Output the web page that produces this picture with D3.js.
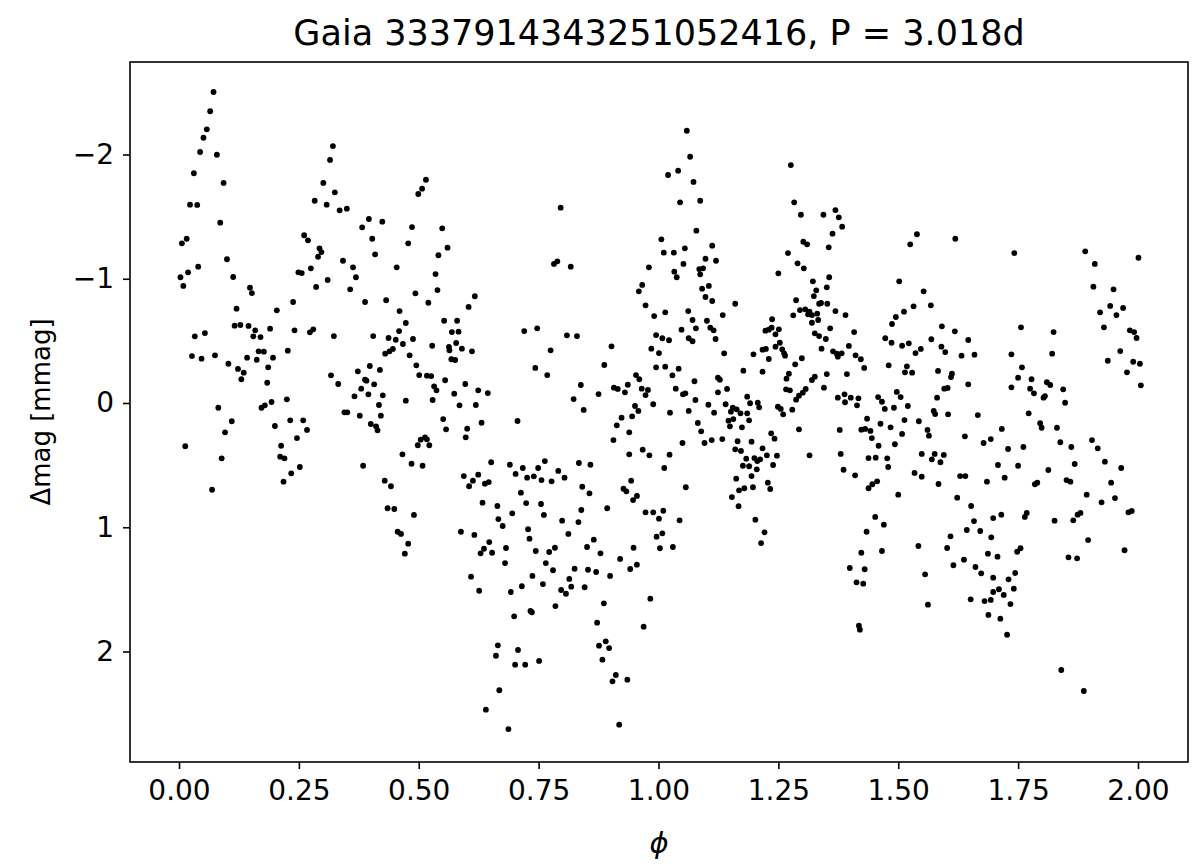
<!DOCTYPE html>
<html><head><meta charset="utf-8">
<script src="https://cdn.jsdelivr.net/npm/d3@7"></script>
<style>html,body{margin:0;padding:0;background:#fff;} svg{display:block;}</style>
</head><body>
<svg id="chart" width="1200" height="868"></svg>
<script>
const titleText = "Gaia 3337914343251052416, P = 3.018d";
const xLabelText = "\u03d5";
const yLabelText = "\u0394mag [mmag]";
const xTicks = [0, 0.25, 0.5, 0.75, 1.0, 1.25, 1.5, 1.75, 2.0];
const yTicks = [-2, -1, 0, 1, 2];

// phase of each observation
const phase = [
0.072,0.065,0.058,0.051,0.044,0.079,0.031,0.093,0.023,0.038,
0.086,0.016,0.006,0.100,0.040,0.019,0.003,0.009,0.113,0.148,
0.152,0.120,0.204,0.238,0.116,0.128,0.145,0.159,0.155,0.170,
0.190,0.241,0.273,0.280,0.323,0.054,0.033,0.027,0.047,0.075,
0.103,0.123,0.135,0.130,0.142,0.162,0.166,0.177,0.196,0.186,
0.184,0.227,0.082,0.172,0.179,0.193,0.225,0.317,0.321,0.315,
0.301,0.325,0.283,0.308,0.261,0.269,0.293,0.297,0.290,0.275,
0.249,0.256,0.310,0.286,
0.110,0.096,0.013,0.089,0.069,0.200,0.232,0.259,0.267,0.246,0.213,0.211,0.220,0.252,0.234,0.218,
0.335,0.350,0.515,0.507,0.499,0.396,0.382,0.424,0.403,0.409,
0.486,0.549,0.478,0.560,0.541,0.342,0.363,0.369,0.357,0.454,
0.535,0.539,0.493,0.520,0.617,0.604,0.388,0.432,0.460,0.473,
0.459,0.405,0.437,0.452,0.488,0.467,0.430,0.439,0.446,0.481,
0.553,0.580,0.569,0.583,0.528,0.563,0.564,0.578,0.590,0.611,
0.568,0.576,0.495,0.501,0.517,0.526,0.532,0.537,0.555,0.597,
0.574,0.624,0.644,0.619,0.585,0.529,0.473,0.332,0.373,0.398,
0.419,0.388,0.391,0.407,0.380,0.395,0.366,0.425,0.417,
0.345,0.351,0.377,0.421,0.400,0.411,0.414,0.551,0.557,0.601,
0.598,0.631,0.513,0.504,0.498,0.522,0.517,0.466,0.485,0.508,
0.384,0.429,0.442,0.435,0.449,0.490,0.456,0.463,0.478,0.471,
0.651,0.594,0.624,0.613,0.605,0.638,0.646,0.633,0.664,0.666,
0.588,0.616,0.647,0.636,0.629,0.653,0.609,0.626,0.665,0.661,
0.668,0.640,
0.796,1.006,1.011,0.782,0.789,0.817,0.980,0.966,0.959,0.973,
0.991,1.014,0.720,0.747,0.809,0.830,0.775,0.902,0.887,0.743,
0.768,0.838,0.823,0.844,0.875,0.907,0.915,0.930,0.936,0.953,
0.960,0.965,0.978,0.973,0.989,0.951,0.958,0.995,1.008,0.985,
1.001,0.995,1.014,
0.706,0.923,0.945,0.913,0.939,0.906,0.939,0.967,0.981,1.012,
0.690,0.702,0.717,0.726,0.740,0.749,0.763,0.756,0.777,0.791,
0.804,0.834,0.858,0.841,0.856,0.943,0.927,0.933,0.955,0.947,
0.713,0.724,0.755,0.761,0.695,0.675,0.839,0.893,0.799,0.833,
0.812,0.973,0.989,1.010,1.001,0.996,1.008,1.003,0.728,0.731,
0.682,0.680,0.744,0.772,0.784,0.765,0.780,0.865,0.851,0.879,
0.948,0.920,0.941,0.955,0.825,0.853,0.870,0.899,0.737,0.759,
0.814,0.818,0.797,0.807,0.846,0.715,0.692,0.785,0.733,0.736,
0.699,0.886,0.983,0.872,0.969,0.707,0.701,0.722,0.751,0.890,
0.876,0.897,0.883,0.911,0.904,0.935,0.687,0.918,
1.059,1.066,1.020,1.041,1.073,1.045,1.087,1.079,1.032,1.055,
1.112,1.098,1.120,1.052,1.033,1.038,1.085,1.093,1.087,1.091,
1.105,1.098,1.112,1.160,1.134,1.062,1.071,1.101,1.078,1.048,
1.108,1.115,1.022,1.063,1.071,1.119,1.137,1.042,1.029,1.075,
1.124,1.128,1.036,1.051,1.056,1.143,1.124,1.077,1.104,1.140,
1.063,1.024,1.116,1.177,1.198,1.217,1.224,1.230,1.217,1.237,
1.223,1.230,1.236,1.251,1.244,1.253,1.244,1.258,1.262,1.264,
1.250,1.276,1.283,1.297,1.344,1.270,1.302,1.310,1.355,1.290,
1.303,1.322,1.329,1.324,1.351,1.356,1.287,1.339,1.335,1.352,
1.281,1.295,1.306,1.315,1.320,1.331,1.312,1.333,1.320,1.358,
1.326,1.335,1.349,1.340,1.299,1.285,1.272,1.267,1.326,1.320,
1.351,1.345,1.266,1.274,1.307,1.301,1.293,1.287,1.185,1.191,
1.207,1.210,1.155,1.163,1.151,1.171,1.185,1.249,1.255,1.279,
1.260,
1.146,1.156,1.149,1.189,1.174,1.082,1.089,1.050,1.096,1.111,
1.133,1.165,1.194,1.160,1.172,1.183,1.200,1.206,1.212,1.176,
1.189,1.205,1.217,1.226,1.235,1.242,1.247,1.239,1.293,1.315,
1.023,1.057,1.162,1.194,1.168,1.179,1.197,1.153,1.167,1.228,
1.233,1.044,1.030,1.202,1.221,1.214,
1.369,1.376,1.383,1.363,1.539,1.525,1.619,1.369,1.390,1.408,
1.397,1.364,1.374,1.382,1.372,1.411,1.422,1.429,1.393,1.374,
1.388,1.389,1.401,1.417,1.414,1.502,1.553,1.532,1.568,1.512,
1.495,1.487,1.473,1.486,1.508,1.522,1.536,1.547,1.569,1.591,
1.618,1.646,1.590,1.598,1.632,1.659,1.480,1.518,1.514,1.529,
1.583,1.612,1.610,1.646,1.596,1.603,1.581,1.458,1.466,1.472,
1.497,1.505,1.491,1.520,1.574,1.604,1.666,
1.577,1.435,1.378,1.423,1.431,1.442,1.445,1.463,1.484,1.513,
1.543,1.508,1.561,1.564,1.459,1.493,1.380,1.438,1.453,1.477,
1.479,1.549,1.576,1.570,1.595,1.588,1.639,1.678,1.693,1.386,
1.410,1.438,1.446,1.456,1.500,1.534,1.549,1.584,1.629,1.640,
1.685,1.623,1.652,1.452,1.470,1.434,1.658,1.643,1.671,1.698,
1.694,1.609,1.602,1.542,1.423,1.466,1.399,1.430,1.413,1.427,
1.637,1.615,1.661,1.673,1.687,1.698,1.556,1.562,1.651,1.680,
1.693,1.698,1.688,1.418,1.420,
1.742,1.890,1.910,2.001,1.907,1.949,1.942,1.921,1.969,1.955,
1.929,1.983,1.992,1.997,1.963,1.937,1.990,2.004,1.977,2.006,
1.756,1.824,1.736,1.821,1.758,1.750,1.778,1.810,1.817,1.736,
1.775,1.783,1.844,1.803,1.806,1.848,1.772,
1.716,1.796,1.799,1.831,1.729,1.761,1.838,1.861,1.904,1.916,
1.708,1.750,1.813,1.868,1.931,1.965,1.722,1.785,1.790,1.851,
1.859,1.944,1.893,1.924,1.952,1.715,1.764,1.768,1.826,1.865,
1.874,1.880,1.980,1.987,1.896,1.972,1.707,1.748,1.755,1.855,
1.873,1.730,1.744,1.710,1.720,1.741,1.734,1.713,1.727,1.840,
1.887
];

// magnitude offset of each observation (mmag)
const dmag = [
-2.503,-2.348,-2.203,-2.135,-2.020,-1.998,-1.849,-1.771,-1.596,-1.594,
-1.451,-1.322,-1.285,-1.157,-1.097,-1.052,-1.012,-0.942,-1.014,-0.928,
-0.885,-0.759,-0.746,-0.813,-0.622,-0.628,-0.620,-0.585,-0.537,-0.531,
-0.598,-0.585,-0.569,-0.593,-0.539,-0.563,-0.537,-0.378,-0.357,-0.384,
-0.316,-0.274,-0.244,-0.191,-0.365,-0.348,-0.416,-0.413,-0.365,-0.287,
-0.163,-0.421,0.038,0.038,0.019,-0.008,-0.030,-0.223,-2.068,-1.956,
-1.771,-1.696,-1.628,-1.596,-1.350,-1.309,-1.245,-1.215,-1.177,-1.084,
-1.052,-1.046,-0.990,-0.934,
0.147,0.236,0.348,0.445,0.698,0.185,0.139,0.139,0.217,0.282,0.344,0.432,0.445,0.515,0.566,0.633,
-1.551,-1.564,-1.797,-1.725,-1.682,-1.481,-1.414,-1.459,-1.322,-1.197,
-1.416,-1.406,-1.285,-1.250,-1.189,-1.145,-1.092,-1.012,-0.915,-1.092,
-1.038,-0.909,-0.883,-0.807,-0.859,-0.773,-0.813,-0.827,-0.740,-0.644,
-0.579,-0.539,-0.523,-0.509,-0.515,-0.475,-0.397,-0.416,-0.435,-0.384,
-0.662,-0.662,-0.571,-0.574,-0.461,-0.451,-0.424,-0.483,-0.437,-0.416,
-0.352,-0.346,-0.303,-0.225,-0.220,-0.217,-0.134,-0.102,-0.183,-0.153,
-0.075,-0.102,-0.080,0.016,0.019,-0.024,-0.019,-0.153,-0.255,-0.298,
-0.266,-0.188,-0.180,-0.150,-0.115,-0.070,-0.054,-0.062,0.016,
0.075,0.075,0.102,0.102,0.169,0.188,0.220,0.129,0.212,0.207,
0.276,0.159,0.276,0.295,0.340,0.340,0.292,0.413,0.489,0.505,
0.505,0.625,0.670,0.847,0.853,0.901,1.036,1.054,1.132,1.213,
0.477,0.588,0.577,0.625,0.670,0.649,0.636,0.802,0.829,0.934,
1.036,1.062,1.119,1.173,1.210,1.205,1.398,1.511,1.950,2.034,
2.312,2.468,
-1.572,-1.317,-1.210,-1.119,-1.140,-1.097,-1.092,-0.950,-0.899,-0.786,
-0.700,-0.730,-0.579,-0.601,-0.545,-0.539,-0.424,-0.456,-0.306,-0.282,
-0.225,-0.145,-0.032,0.056,-0.072,-0.123,-0.113,-0.086,-0.147,-0.225,
-0.191,-0.115,-0.105,-0.064,0.010,0.024,0.064,-0.547,-0.521,-0.437,
-0.402,-0.287,-0.292,
0.145,0.118,0.107,0.180,0.236,0.298,0.413,0.376,0.421,0.523,
0.497,0.571,0.523,0.601,0.590,0.523,0.467,0.620,0.630,0.547,
0.601,0.483,0.497,0.674,0.727,0.625,0.690,0.711,0.748,0.781,
0.722,0.805,0.813,0.901,0.888,0.990,0.861,0.847,0.947,0.958,
1.054,0.880,0.880,0.867,0.931,1.076,1.049,1.169,1.016,1.092,
1.167,1.288,1.191,1.199,1.165,1.288,1.346,1.100,1.159,1.210,
1.165,1.255,1.336,1.301,1.334,1.342,1.360,1.392,1.392,1.457,
1.416,1.478,1.505,1.535,1.483,1.475,1.521,1.634,1.674,1.684,
1.717,1.612,1.575,1.768,1.800,1.988,2.106,2.106,2.076,1.918,
1.953,1.972,2.066,2.189,2.240,2.227,2.624,2.589,
-2.191,-1.982,-1.835,-1.870,-1.779,-1.615,-1.628,-1.387,-1.210,-1.245,
-1.266,-1.161,-1.145,-1.119,-1.057,-1.012,-1.078,-1.084,-1.036,-0.920,
-0.942,-0.853,-0.821,-0.799,-0.708,-0.740,-0.668,-0.662,-0.601,-0.590,
-0.606,-0.585,-0.505,-0.521,-0.497,-0.515,-0.400,-0.276,-0.223,-0.175,
-0.204,-0.188,-0.115,-0.070,-0.078,-0.113,-0.086,-0.024,0.014,0.010,
0.064,0.078,0.078,-0.260,-0.392,-0.429,-0.435,-0.354,-0.252,-0.674,
-0.582,-0.590,-0.606,-0.593,-0.553,-0.485,-0.453,-0.432,-0.400,-0.381,
-1.044,-1.915,-1.615,-1.515,-1.515,-1.207,-1.298,-1.277,-1.253,-1.124,
-1.084,-0.979,-0.907,-0.861,-0.931,-1.012,-0.827,-0.805,-0.799,-0.799,
-0.706,-0.748,-0.754,-0.735,-0.708,-0.719,-0.714,-0.668,-0.646,-0.601,
-0.561,-0.539,-0.515,-0.437,-0.360,-0.311,-0.236,-0.196,-0.212,-0.185,
-0.233,-0.123,-0.110,-0.102,-0.113,-0.083,-0.059,-0.027,-0.051,0.002,
-0.002,0.035,0.038,0.051,0.070,0.083,0.083,0.030,0.048,0.054,
0.091,
0.142,0.129,0.188,0.139,0.196,0.161,0.228,0.322,0.322,0.298,
0.290,0.308,0.311,0.373,0.386,0.448,0.443,0.467,0.453,0.505,
0.509,0.534,0.365,0.421,0.244,0.287,0.424,0.499,0.212,0.421,
0.416,0.678,0.609,0.588,0.703,0.686,0.678,0.757,0.831,0.641,
0.692,0.944,1.159,0.939,1.041,1.127,
-1.553,-1.494,-1.419,-1.363,-1.358,-1.277,-1.322,-0.740,-0.708,-0.571,
-0.459,-0.416,-0.373,-0.400,-0.397,-0.384,-0.352,-0.282,-0.233,-0.043,
-0.070,-0.006,-0.043,-0.038,0.019,-0.979,-0.899,-0.778,-0.786,-0.735,
-0.692,-0.636,-0.521,-0.485,-0.461,-0.480,-0.402,-0.435,-0.513,-0.617,
-0.577,-0.507,-0.453,-0.410,-0.381,-0.389,-0.303,-0.295,-0.247,-0.244,
-0.258,-0.236,-0.209,-0.150,-0.115,-0.121,-0.043,-0.048,-0.010,0.048,
-0.089,-0.048,0.038,0.024,0.064,0.091,0.097,
0.089,0.126,0.217,0.215,0.209,0.225,0.282,0.167,0.196,0.137,
0.147,0.249,0.217,0.263,0.344,0.332,0.410,0.443,0.440,0.445,
0.515,0.410,0.410,0.453,0.418,0.477,0.268,0.322,0.290,0.537,
0.582,0.686,0.654,0.630,0.738,0.563,0.593,0.652,0.588,0.588,
0.633,0.762,0.829,0.917,0.979,1.036,0.950,1.022,1.030,0.926,
1.081,1.073,1.167,1.151,1.205,1.191,1.328,1.338,1.443,1.454,
1.261,1.306,1.320,1.371,1.213,1.406,1.379,1.623,1.580,1.594,
1.585,1.521,1.706,1.792,1.824,
-1.207,-1.221,-1.119,-1.169,-0.936,-0.915,-0.781,-0.730,-0.765,-0.708,
-0.609,-0.585,-0.571,-0.523,-0.418,-0.340,-0.332,-0.316,-0.247,-0.142,
-0.609,-0.571,-0.392,-0.397,-0.287,-0.204,-0.191,-0.167,-0.145,-0.126,
-0.115,-0.078,-0.110,-0.043,-0.056,-0.002,0.083,
0.209,0.163,0.199,0.199,0.370,0.354,0.316,0.354,0.298,0.365,
0.499,0.505,0.539,0.491,0.472,0.523,0.601,0.654,0.641,0.620,
0.633,0.641,0.738,0.799,0.765,0.899,0.917,0.885,0.947,0.944,
0.899,0.885,0.880,0.869,1.103,1.185,1.237,1.197,1.169,1.242,
1.250,1.419,1.368,1.499,1.545,1.494,1.618,1.736,1.865,2.149,
2.318
];

if (phase.length !== dmag.length) console.error("length mismatch", phase.length, dmag.length);

const W = 1200, H = 868;
const plot = {left: 130, right: 1188, top: 62, bottom: 762};
const FONT = "'DejaVu Sans', sans-serif";

const svg = d3.select("#chart");
svg.append("rect").attr("width", W).attr("height", H).attr("fill", "#fff");

const x = d3.scaleLinear().domain([-0.1022, 2.1043]).range([plot.left, plot.right]);
const y = d3.scaleLinear().domain([-2.7445, 2.8893]).range([plot.top, plot.bottom]);

// points
svg.append("g")
  .selectAll("circle")
  .data(d3.range(Math.min(phase.length, dmag.length)))
  .join("circle")
  .attr("cx", i => x(phase[i]))
  .attr("cy", i => y(dmag[i]))
  .attr("r", 2.9)
  .attr("fill", "#000");

// axes
const fmtY = d => d < 0 ? "\u2212" + Math.abs(d) : String(d);
const xAxis = svg.append("g")
  .attr("transform", `translate(0,${plot.bottom})`)
  .call(d3.axisBottom(x).tickValues(xTicks).tickFormat(d3.format(".2f")).tickSize(7).tickSizeOuter(0).tickPadding(11));
const yAxis = svg.append("g")
  .attr("transform", `translate(${plot.left},0)`)
  .call(d3.axisLeft(y).tickValues(yTicks).tickFormat(fmtY).tickSize(7).tickSizeOuter(0).tickPadding(9));
[xAxis, yAxis].forEach(g => {
  g.select(".domain").remove();
  g.selectAll(".tick line").attr("stroke", "#000").attr("stroke-width", 1.6);
  g.selectAll(".tick text").attr("fill", "#000").style("font-family", FONT).style("font-size", "28px");
});

// frame
svg.append("rect")
  .attr("x", plot.left).attr("y", plot.top)
  .attr("width", plot.right - plot.left).attr("height", plot.bottom - plot.top)
  .attr("fill", "none").attr("stroke", "#000").attr("stroke-width", 1.6);

// title
svg.append("text")
  .attr("x", (plot.left + plot.right) / 2).attr("y", 45)
  .attr("text-anchor", "middle")
  .style("font-family", FONT).style("font-size", "35px")
  .text(titleText);

// x label
svg.append("text")
  .attr("x", (plot.left + plot.right) / 2).attr("y", 853)
  .attr("text-anchor", "middle")
  .style("font-family", FONT).style("font-size", "29px").style("font-style", "italic")
  .text(xLabelText);

// y label
svg.append("text")
  .attr("transform", `translate(50,${(plot.top + plot.bottom) / 2}) rotate(-90)`)
  .attr("text-anchor", "middle")
  .style("font-family", FONT).style("font-size", "26px")
  .text(yLabelText);
</script>
</body></html>
